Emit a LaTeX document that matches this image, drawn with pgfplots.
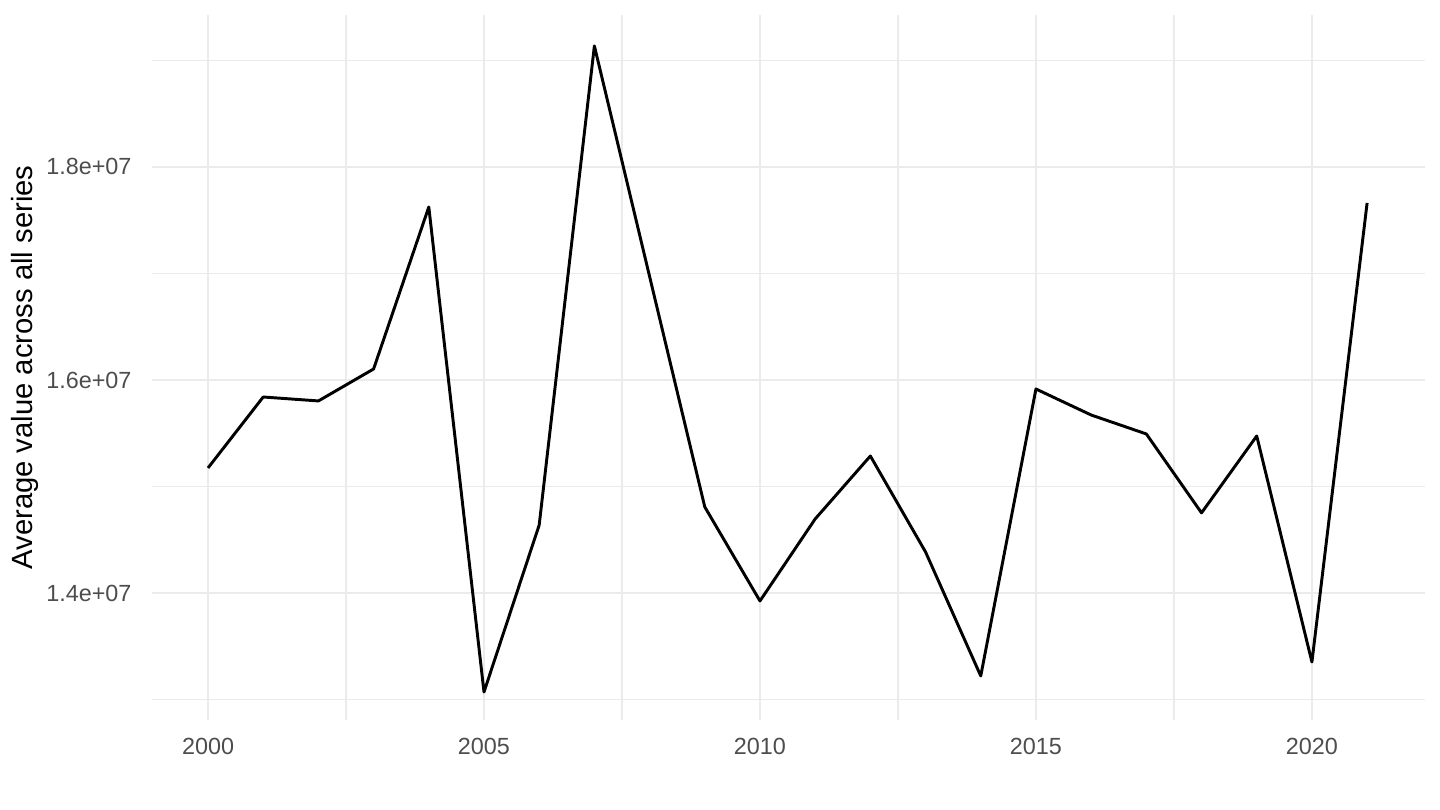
\documentclass[border=0pt]{standalone}
\usepackage{fontspec}
\setmainfont{Liberation Sans}
\usepackage{pgfplots}
\pgfplotsset{compat=1.18}

\definecolor{gridgrey}{HTML}{EBEBEB}
\definecolor{ticktext}{HTML}{4D4D4D}

\begin{document}
\begin{tikzpicture}

\begin{axis}[%
at={(0,0)},
anchor=south west,
width=477.4bp,
height=264.4bp,
scale only axis,
xmin=1998.985,
xmax=2022.05,
ymin=1.28075e7,
ymax=1.9427e7,
xtick={2000,2005,2010,2015,2020},
xticklabels={2000,2005,2010,2015,2020},
minor xtick={2002.5,2007.5,2012.5,2017.5},
ytick={1.4e7,1.6e7,1.8e7},
yticklabels={1.4e+07,1.6e+07,1.8e+07},
minor ytick={1.3e7,1.5e7,1.7e7,1.9e7},
scaled y ticks=false,
/pgf/number format/assume math mode=true,
/pgf/number format/1000 sep={},
grid=both,
major grid style={color=gridgrey, line width=1.07pt},
minor grid style={color=gridgrey, line width=0.53pt},
axis line style={draw=none},
tick style={draw=none},
major tick length=0pt,
minor tick length=0pt,
ticklabel style={font=\fontsize{8.8}{10}\selectfont, text=ticktext, inner sep=0pt},
xticklabel style={anchor=north, yshift=-6.75bp},
yticklabel style={anchor=east, xshift=-7.5bp},
clip=false
]
\addplot [color=black, line width=1.1bp, line join=round]
table[row sep=crcr]{
2000 15174000\\
2001 15840000\\
2002 15803000\\
2003 16103000\\
2004 17624000\\
2005 13070000\\
2006 14638000\\
2007 19136000\\
2008 16972000\\
2009 14808000\\
2010 13925000\\
2011 14695000\\
2012 15286000\\
2013 14385000\\
2014 13221000\\
2015 15915000\\
2016 15671000\\
2017 15493000\\
2018 14752000\\
2019 15474000\\
2020 13352000\\
2021 17662000\\
};
\end{axis}

\node[rotate=90, font=\fontsize{11}{13}\selectfont, text=black] at (-47.6bp,132.2bp) {Average value across all series};

\pgfresetboundingbox
\path (-57bp,-33.75bp) rectangle (483bp,270bp);
\end{tikzpicture}
\end{document}
